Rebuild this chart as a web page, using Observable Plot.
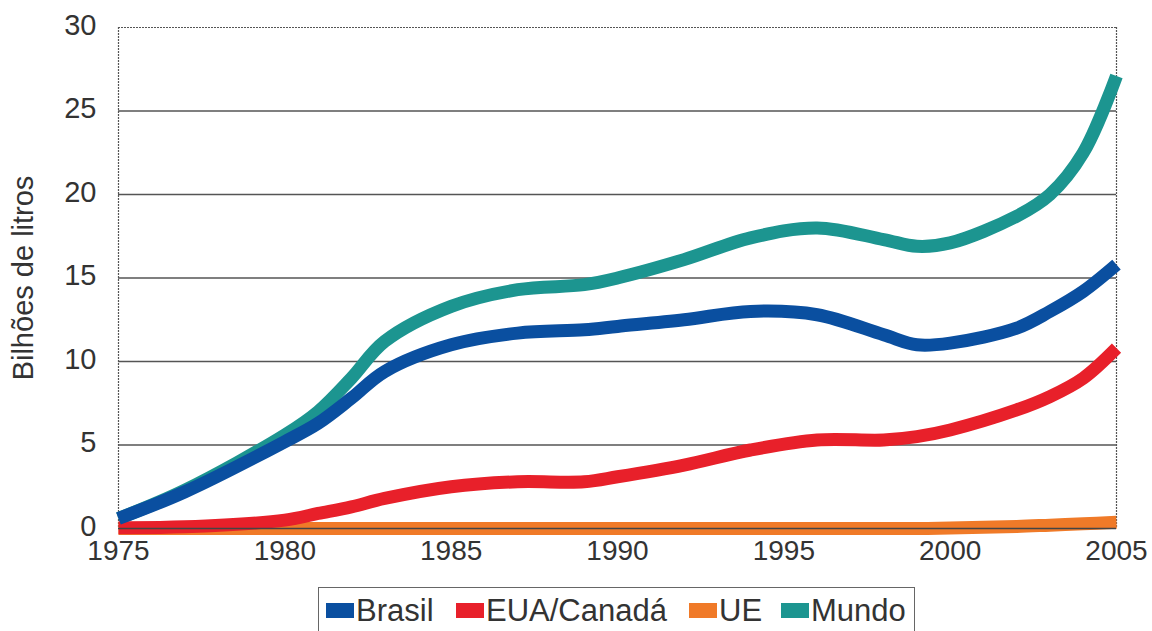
<!DOCTYPE html>
<html><head><meta charset="utf-8">
<script src="https://cdn.jsdelivr.net/npm/d3@7"></script>
<script src="https://cdn.jsdelivr.net/npm/@observablehq/plot@0.6"></script>
<style>
body{margin:0;background:#fff;font-family:"Liberation Sans",Arial,sans-serif;}
#chart{width:1152px;height:580px;}
#chart svg{display:block;}
#legend{position:relative;margin-left:318px;margin-top:7px;width:597px;height:50px;border:1.5px solid #666;border-bottom:none;box-sizing:border-box;font-size:31px;color:#333;font-family:"Liberation Sans",Arial,sans-serif;}
#legend .sw{position:absolute;top:15px;width:28px;height:15px;}
#legend .tx{position:absolute;top:6px;line-height:34px;white-space:nowrap;}
</style></head>
<body><div id="chart"></div><div id="legend"></div>
<script>
const years = [1975,1977,1980,1981,1982,1983,1985,1987,1989,1990,1992,1994,1996,1998,1999,2000,2002,2003,2004,2005];
const brasil = [0.6,2.2,5.2,6.3,7.8,9.4,11.0,11.7,11.9,12.1,12.5,13.0,12.8,11.6,11.0,11.1,12.0,13.0,14.2,15.8];
const mundo  = [0.6,2.3,5.6,7.0,9.0,11.2,13.3,14.3,14.6,15.0,16.1,17.4,18.0,17.3,16.9,17.1,18.7,20.0,22.5,27.1];
const eua    = [0.05,0.1,0.5,0.9,1.3,1.8,2.5,2.8,2.8,3.1,3.8,4.7,5.3,5.3,5.5,5.9,7.1,7.9,9.0,10.8];
const ue     = [0,0,0,0,0,0,0,0,0,0,0,0,0,0,0,0.03,0.12,0.2,0.28,0.38];
const seriesNames = ["Brasil","EUA/Canadá","UE","Mundo"];
const colors = ["#0a4fa0","#e8202a","#f07a28","#1c9590"];
const xTicks = [1975,1980,1985,1990,1995,2000,2005];
const yTicks = [0,5,10,15,20,25,30];
const yTitle = "Bilhões de litros";

const all = [[mundo,"Mundo"],[ue,"UE"],[eua,"EUA/Canadá"],[brasil,"Brasil"]];
const data = all.flatMap(([arr,name]) => years.map((y,i)=>({year:y,value:arr[i],series:name})));

const plot = Plot.plot({
  width:1152, height:580,
  marginLeft:118, marginRight:36, marginTop:27, marginBottom:52,
  style:{fontFamily:"Liberation Sans, Arial, sans-serif", color:"#333", background:"#fff"},
  x:{domain:[1975,2005]},
  y:{domain:[0,30]},
  color:{domain:seriesNames, range:colors},
  marks:[
    Plot.gridY(yTicks.filter(d=>d>0&&d<30), {stroke:"#555", strokeOpacity:1, strokeWidth:1.5}),
    Plot.ruleY([30], {stroke:"#555", strokeWidth:1.2, strokeDasharray:"2,1"}),
    Plot.ruleX([1975,2005], {stroke:"#555", strokeWidth:1.2, strokeDasharray:"2,1"}),
    Plot.axisX({ticks:xTicks, tickFormat:d=>String(d), tickSize:0, tickPadding:12, label:null, fontSize:28}),
    Plot.axisY({ticks:yTicks, tickSize:0, tickPadding:22, label:null, fontSize:29, dy:-2}),
    Plot.text([yTitle], {frameAnchor:"left", textAnchor:"middle", rotate:-90, dx:-95, fontSize:29, fill:"#333"}),
    Plot.line(data, {x:"year", y:"value", z:"series", stroke:"series", strokeWidth:13, curve:"catmull-rom", strokeLinecap:"butt"}),
    Plot.ruleY([0], {stroke:"#444", strokeWidth:1.5})
  ]
});
document.getElementById("chart").appendChild(plot);
const lg = document.getElementById("legend");
// legend item offsets inside the box (layout only)
const swX = [7,137,370,462];
seriesNames.forEach((n,i)=>{
  const sw=document.createElement("div");sw.className="sw";sw.style.background=colors[i];sw.style.left=swX[i]+"px";
  const t=document.createElement("div");t.className="tx";t.textContent=n;t.style.left=(swX[i]+30)+"px";
  lg.appendChild(sw);lg.appendChild(t);
});
</script></body></html>
